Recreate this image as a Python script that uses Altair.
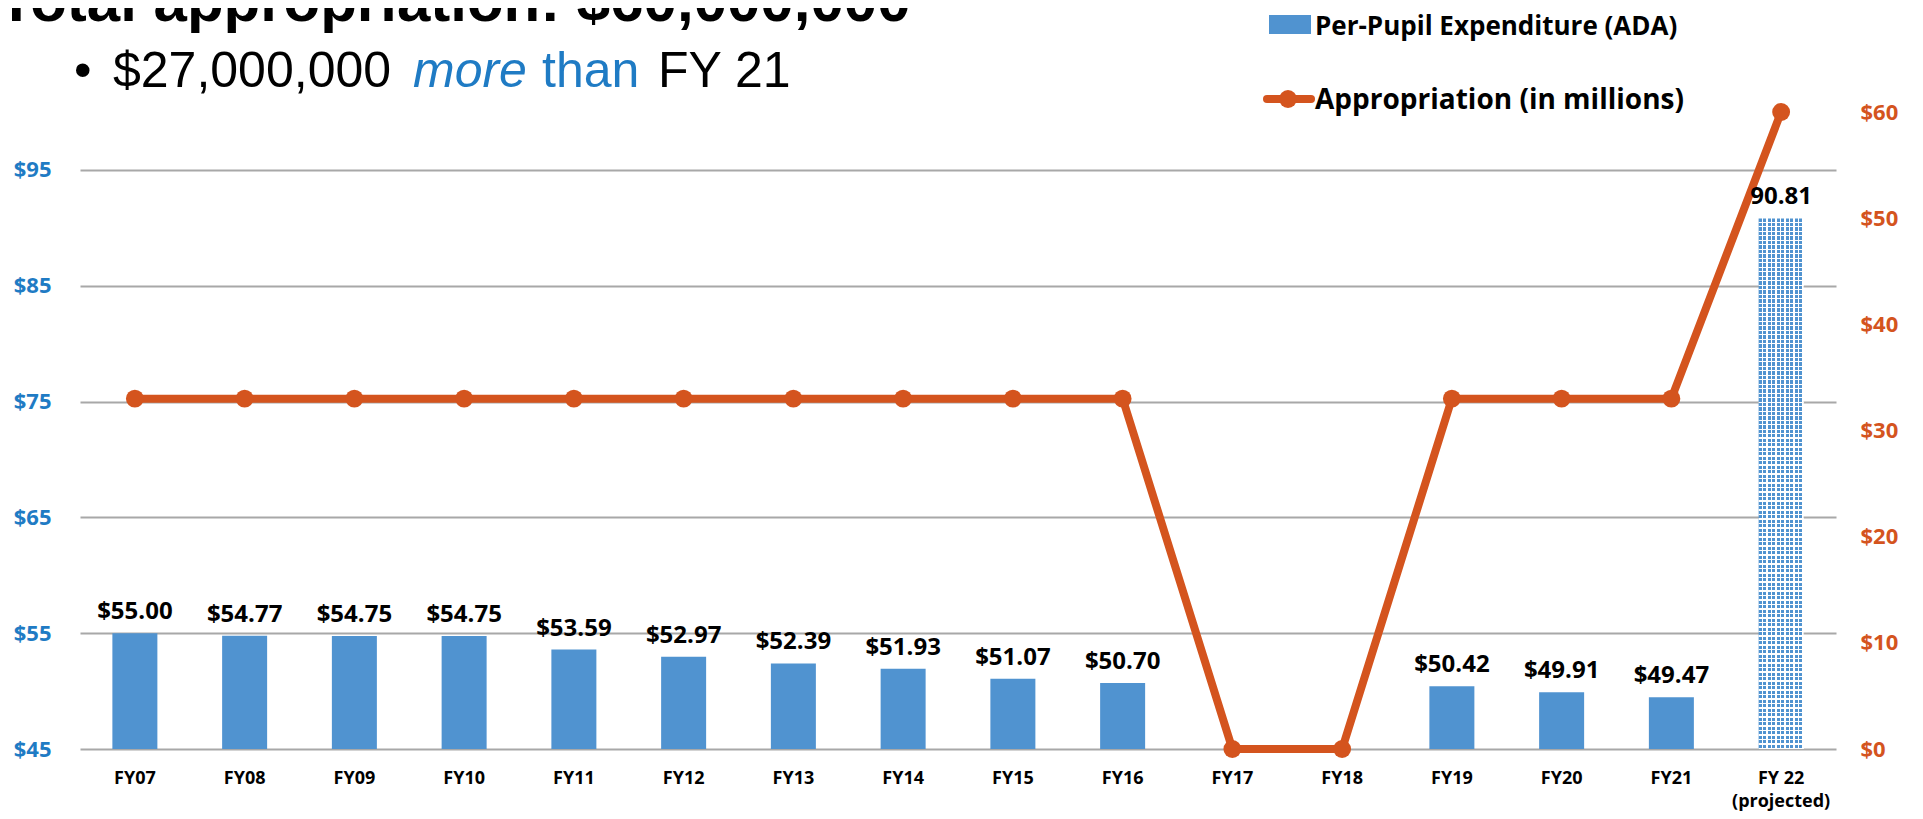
import altair as alt
import pandas as pd

# ---------------- data ----------------
years = ["FY07", "FY08", "FY09", "FY10", "FY11", "FY12", "FY13", "FY14",
         "FY15", "FY16", "FY17", "FY18", "FY19", "FY20", "FY21", "FY 22"]
per_pupil = [55.00, 54.77, 54.75, 54.75, 53.59, 52.97, 52.39, 51.93,
             51.07, 50.70, None, None, 50.42, 49.91, 49.47, 90.81]
appropriation = [33, 33, 33, 33, 33, 33, 33, 33, 33, 33, 0, 0, 33, 33, 33, 60]
projected = [False] * 15 + [True]
left_ticks = [45, 55, 65, 75, 85, 95]
right_ticks = [0, 10, 20, 30, 40, 50, 60]

labels = []
for v, p in zip(per_pupil, projected):
    if v is None:
        labels.append("")
    elif p:
        labels.append(f"{v:.2f}")
    else:
        labels.append(f"${v:.2f}")

df = pd.DataFrame({"year": years, "pp": per_pupil, "approp": appropriation,
                   "projected": projected, "label": labels})

# ---------------- style ----------------
BLUE = "#5093D0"
AXBLUE = "#1F7BC4"
ORANGE = "#D4541E"
GRID = "#A8A8A8"
FONT = "Open Sans"
W, H = 1756, 637
LMIN, LMAX = 45, 100

x_enc = alt.X("year:N", sort=years,
              scale=alt.Scale(paddingInner=0, paddingOuter=0),
              axis=alt.Axis(title=None, labelAngle=0, labelFont=FONT,
                            labelFontWeight="bold", labelFontSize=18,
                            labelColor="black", labelPadding=20, ticks=False,
                            domain=False, labelLineHeight=23,
                            labelExpr="datum.value == 'FY 22' ? ['FY 22', '(projected)'] : datum.value"))

yl_scale = alt.Scale(domain=[LMIN, LMAX], zero=False, nice=False)
yl_axis = alt.Axis(orient="left", values=left_ticks, labelExpr="'$' + datum.value",
                   labelColor=AXBLUE, labelFont=FONT, labelFontWeight="bold",
                   labelFontSize=22, labelPadding=29, ticks=False, domain=False,
                   grid=True, gridColor=GRID, gridWidth=2, title=None)

base = alt.Chart(df)

bars = base.transform_filter("datum.pp != null && !datum.projected").mark_bar(
    size=45, color=BLUE).encode(
    x=x_enc, y=alt.Y("pp:Q", scale=yl_scale, axis=yl_axis), y2=alt.datum(LMIN))

# patterned (projected) bar, via stripe gradients
FRAC = 0.72
nx = 10
xs = []
for k in range(nx):
    xs += [alt.GradientStop(color=BLUE, offset=k / nx),
           alt.GradientStop(color=BLUE, offset=(k + FRAC) / nx),
           alt.GradientStop(color="white", offset=(k + FRAC) / nx),
           alt.GradientStop(color="white", offset=(k + 1) / nx)]
proj_val = [v for v, p in zip(per_pupil, projected) if p][0]
bar_h = (proj_val - LMIN) / (LMAX - LMIN) * H
ny = int(round(bar_h / 4.5))
ys = []
for k in range(ny):
    ys += [alt.GradientStop(color="rgba(255,255,255,0)", offset=k / ny),
           alt.GradientStop(color="rgba(255,255,255,0)", offset=(k + FRAC) / ny),
           alt.GradientStop(color="white", offset=(k + FRAC) / ny),
           alt.GradientStop(color="white", offset=(k + 1) / ny)]

proj_bar = base.transform_filter("datum.projected").mark_bar(
    size=45, fill=alt.Gradient(gradient="linear", stops=xs, x1=0, x2=1, y1=0, y2=0)
).encode(x=x_enc, y=alt.Y("pp:Q", scale=yl_scale, axis=None), y2=alt.datum(LMIN))

proj_overlay = base.transform_filter("datum.projected").mark_bar(
    size=45, fill=alt.Gradient(gradient="linear", stops=ys, x1=0, x2=0, y1=0, y2=1)
).encode(x=x_enc, y=alt.Y("pp:Q", scale=yl_scale, axis=None), y2=alt.datum(LMIN))

bar_text = base.transform_filter("datum.pp != null").mark_text(
    dy=-14, baseline="alphabetic", font=FONT, fontWeight="bold", fontSize=24,
    color="black").encode(
    x=x_enc, y=alt.Y("pp:Q", scale=yl_scale, axis=None), text="label:N")

yr_scale = alt.Scale(domain=[0, 60], nice=False, zero=True)
yr_axis = alt.Axis(orient="right", values=right_ticks, labelExpr="'$' + datum.value",
                   labelColor=ORANGE, labelFont=FONT, labelFontWeight="bold",
                   labelFontSize=22, labelPadding=24, ticks=False, domain=False,
                   grid=False, title=None)

line = base.mark_line(color=ORANGE, strokeWidth=8, strokeCap="round",
                      strokeJoin="round").encode(
    x=x_enc, y=alt.Y("approp:Q", scale=yr_scale, axis=yr_axis))
dots = base.mark_circle(size=320, color=ORANGE, opacity=1).encode(
    x=x_enc, y=alt.Y("approp:Q", scale=yr_scale, axis=None))


def txt(s, x, y, size, weight="normal", color="black", font="Liberation Sans",
        style="normal"):
    return alt.Chart(pd.DataFrame({"t": [s]})).mark_text(
        align="left", baseline="alphabetic", fontSize=size, fontWeight=weight,
        color=color, font=font, fontStyle=style).encode(
        x=alt.value(x), y=alt.value(y), text="t:N")


one = pd.DataFrame({"a": [0]})
title = txt("Total appropriation: $60,000,000", -82, -91, 60, "bold")
bullet = txt("\u2022", -6, -25, 50)
sub1 = txt("$27,000,000", 33, -25, 50)
sub2 = txt("more", 333, -25, 50, color=AXBLUE, style="italic")
sub3 = txt("than", 462, -25, 50, color=AXBLUE)
sub4 = txt("FY 21", 578, -25, 50)

leg_sq = alt.Chart(one).mark_rect(color=BLUE).encode(
    x=alt.value(1189), x2=alt.value(1231), y=alt.value(-97), y2=alt.value(-78))
leg_t1 = txt("Per-Pupil Expenditure (ADA)", 1235, -77, 26, "bold", font=FONT)
leg_ln = alt.Chart(one).mark_rule(color=ORANGE, strokeWidth=8, strokeCap="round").encode(
    x=alt.value(1187), x2=alt.value(1231), y=alt.value(-13))
leg_dot = alt.Chart(one).mark_circle(color=ORANGE, size=320, opacity=1).encode(
    x=alt.value(1208), y=alt.value(-13))
leg_t2 = txt("Appropriation (in millions)", 1235, -3, 28, "bold", font=FONT)

chart = alt.layer(
    bars, line, proj_bar, proj_overlay, dots, bar_text,
    title, bullet, sub1, sub2, sub3, sub4,
    leg_sq, leg_t1, leg_ln, leg_dot, leg_t2
).resolve_scale(y="independent").properties(
    width=W, height=H,
    padding={"left": 72, "top": 104, "right": 70, "bottom": 62},
    autosize=alt.AutoSizeParams(type="none"),
).configure_view(stroke=None)

chart.save("out.html", embed_options={"renderer": "svg", "actions": False})
